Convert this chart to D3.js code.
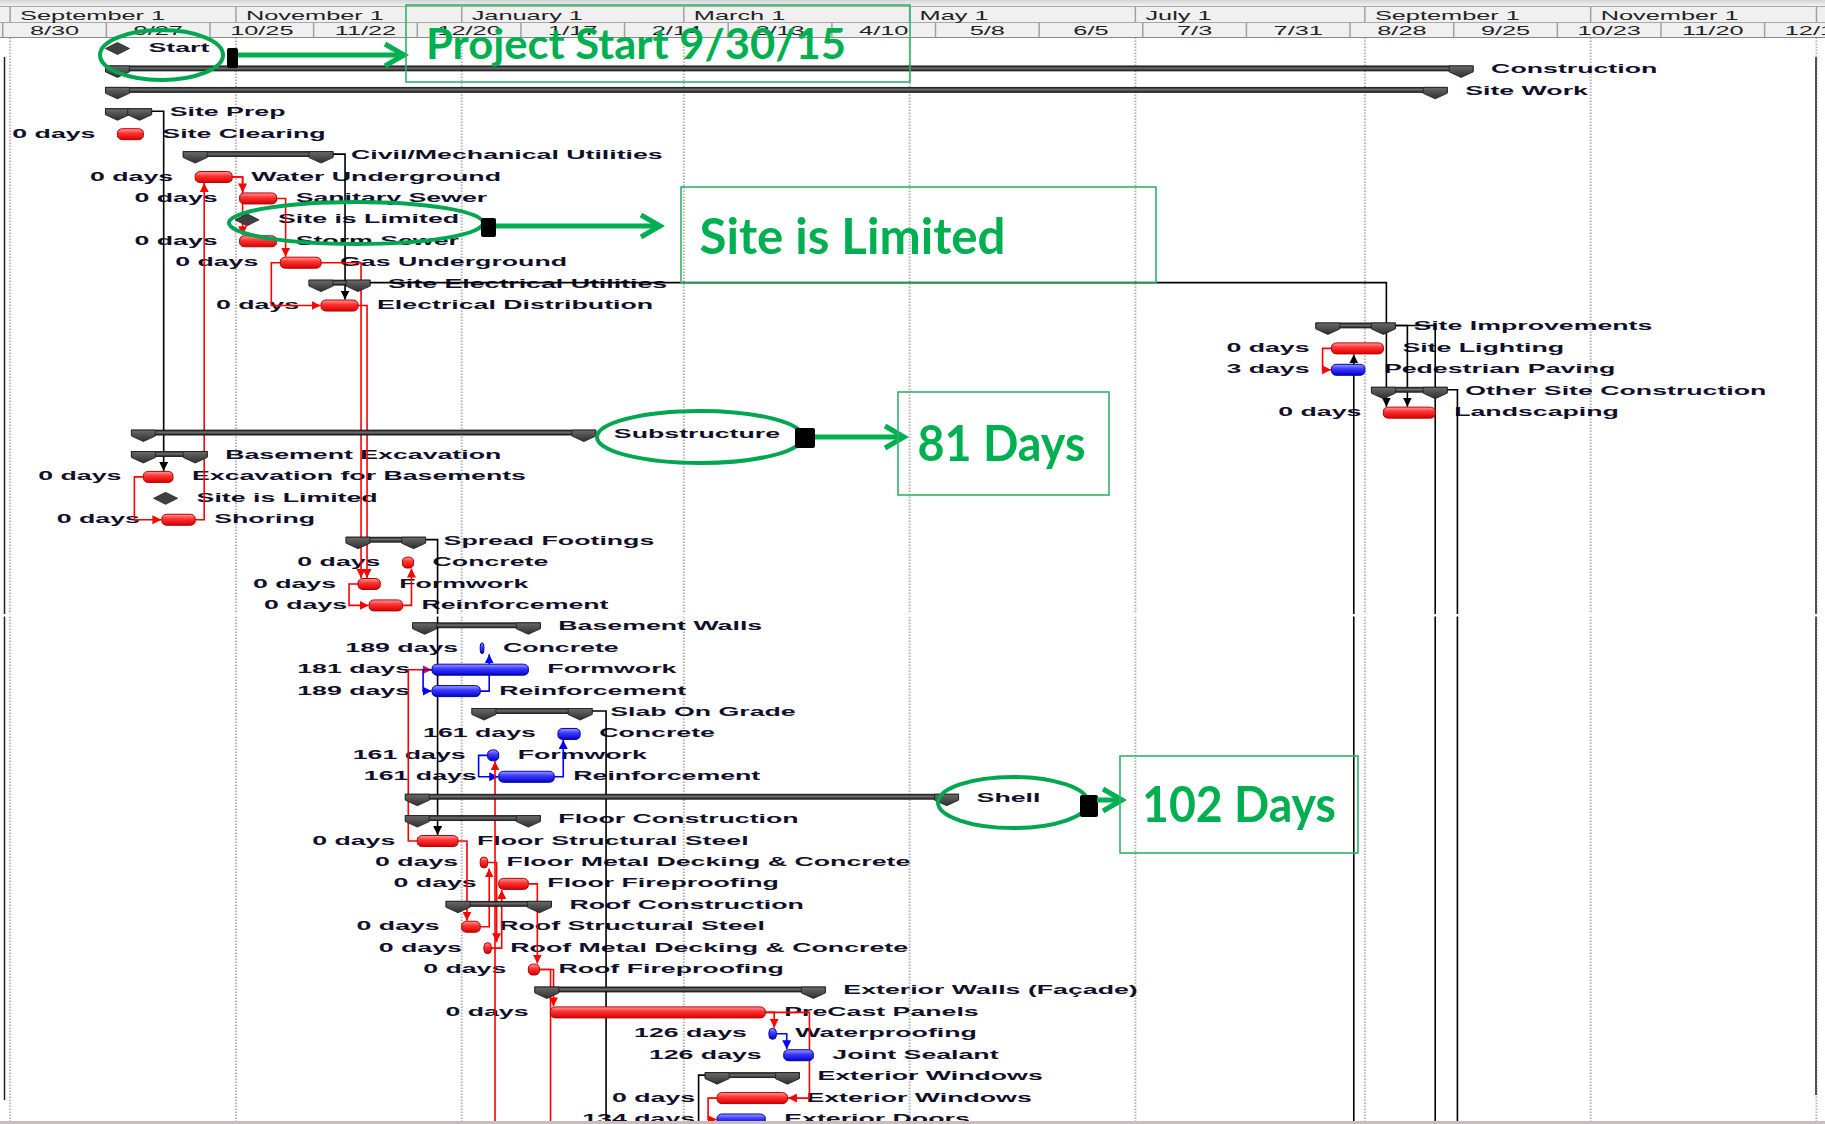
<!DOCTYPE html>
<html>
<head>
<meta charset="utf-8">
<script src="https://cdn.jsdelivr.net/npm/d3@7"></script>
<style>
  html, body { margin: 0; padding: 0; background: #fff; }
  svg { display: block; }
  .lbl { font: bold 13.5px "Liberation Sans", Arial, sans-serif; fill: #10102a; }
  .hdr { font: 13px "Liberation Sans", Arial, sans-serif; fill: #222; }
  .note { font-family: Lato, "Open Sans", sans-serif; font-weight: 700; fill: #00b050; }
</style>
</head>
<body>
<div id="chart"></div>
<script>
// ---- schedule rows (one per line of the Gantt chart) ----
const taskNames = [
  'Start', 'Construction', 'Site Work', 'Site Prep', 'Site Clearing',
  'Civil/Mechanical Utilities', 'Water Underground', 'Sanitary Sewer', 'Site is Limited', 'Storm Sewer',
  'Gas Underground', 'Site Electrical Utilities', 'Electrical Distribution', 'Site Improvements', 'Site Lighting',
  'Pedestrian Paving', 'Other Site Construction', 'Landscaping', 'Substructure', 'Basement Excavation',
  'Excavation for Basements', 'Site is Limited', 'Shoring', 'Spread Footings', 'Concrete',
  'Formwork', 'Reinforcement', 'Basement Walls', 'Concrete', 'Formwork',
  'Reinforcement', 'Slab On Grade', 'Concrete', 'Formwork', 'Reinforcement',
  'Shell', 'Floor Construction', 'Floor Structural Steel', 'Floor Metal Decking & Concrete', 'Floor Fireproofing',
  'Roof Construction', 'Roof Structural Steel', 'Roof Metal Decking & Concrete', 'Roof Fireproofing', 'Exterior Walls (Façade)',
  'PreCast Panels', 'Waterproofing', 'Joint Sealant', 'Exterior Windows', 'Exterior Windows',
  'Exterior Doors'
];
// m = milestone, s = summary, t = task
const taskTypes = ('m s s s t s t t m t ' + 't s t s t t s t s s ' + 't m t s t t t s t t ' +
  't s t t t s s t t t ' + 's t t t s t t t s t ' + 't').trim().split(' ');
const taskStarts = [
  '2015-09-30', '2015-09-30', '2015-09-30', '2015-09-30', '2015-09-30',
  '2015-10-21', '2015-10-21', '2015-11-02', '2015-11-04', '2015-11-02',
  '2015-11-13', '2015-11-24', '2015-11-24', '2016-08-22', '2016-08-23',
  '2016-08-23', '2016-09-06', '2016-09-06', '2015-10-07', '2015-10-07',
  '2015-10-07', '2015-10-13', '2015-10-12', '2015-12-04', '2015-12-16',
  '2015-12-04', '2015-12-07', '2015-12-22', '2016-01-06', '2015-12-24',
  '2015-12-24', '2016-01-07', '2016-01-27', '2016-01-08', '2016-01-11',
  '2015-12-20', '2015-12-20', '2015-12-20', '2016-01-06', '2016-01-11',
  '2015-12-31', '2016-01-01', '2016-01-07', '2016-01-19', '2016-01-24',
  '2016-01-25', '2016-03-24', '2016-03-28', '2016-03-10', '2016-03-10',
  '2016-03-10'
];
const taskFinishes = [
  '2015-09-30', '2016-09-27', '2016-09-20', '2015-10-06', '2015-10-07',
  '2015-11-24', '2015-10-31', '2015-11-12', '2015-11-04', '2015-11-12',
  '2015-11-24', '2015-12-04', '2015-12-04', '2016-09-06', '2016-09-06',
  '2016-09-01', '2016-09-20', '2016-09-20', '2016-02-03', '2015-10-21',
  '2015-10-15', '2015-10-13', '2015-10-21', '2015-12-19', '2015-12-19',
  '2015-12-10', '2015-12-16', '2016-01-19', '2016-01-07', '2016-01-19',
  '2016-01-06', '2016-02-02', '2016-02-02', '2016-01-11', '2016-01-26',
  '2016-05-11', '2016-01-19', '2015-12-31', '2016-01-08', '2016-01-19',
  '2016-01-22', '2016-01-06', '2016-01-09', '2016-01-22', '2016-04-05',
  '2016-03-23', '2016-03-26', '2016-04-05', '2016-03-29', '2016-03-29',
  '2016-03-23'
];
// total slack in days (null = not shown)
const totalSlack = [
  null, null, null, null, 0,
  null, 0, 0, null, 0,
  0, null, 0, null, 0,
  3, null, 0, null, null,
  0, null, 0, null, 0,
  0, 0, null, 189, 181,
  189, null, 161, 161, 161,
  null, null, 0, 0, 0,
  null, 0, 0, 0, null,
  0, 126, 126, null, 0,
  134
];

// dependencies: [from row, to row, type, class]  class: s = summary, c = critical, n = non-critical
const links = [
  [3, 20, 'FS', 's'], [5, 12, 'FS', 's'], [11, 17, 'FS', 's'], [13, 17, 'FS', 's'], [23, 37, 'FS', 's'],
  [20, 22, 'SS', 'c'], [22, 6, 'FS', 'c'], [6, 7, 'FS', 'c'], [6, 9, 'FS', 'c'], [7, 10, 'FS', 'c'],
  [10, 12, 'SS', 'c'], [10, 25, 'FS', 'c'], [12, 25, 'FS', 'c'], [25, 26, 'SS', 'c'], [26, 24, 'FS', 'c'],
  [37, 29, 'SS', 'c'], [29, 30, 'SS', 'n'], [30, 28, 'FS', 'n'], [33, 34, 'SS', 'n'], [34, 32, 'FS', 'n'],
  [37, 41, 'FS', 'c'], [41, 38, 'FS', 'c'], [38, 42, 'FS', 'c'], [42, 39, 'FS', 'c'], [39, 43, 'FS', 'c'],
  [43, 45, 'FS', 'c'], [45, 46, 'FS', 'c'], [46, 47, 'FS', 'n'], [45, 49, 'FF', 'c'], [49, 50, 'SS', 'c'],
  [14, 15, 'SS', 'c']
];
// dependencies whose other end lies below the picture: [row, direction, partner date, class]
const offLinks = [
  [13, 'out', '2016-09-20', 's'], [16, 'out', '2016-09-26', 's'], [31, 'out', '2016-02-09', 's'],
  [48, 'outSS', '2016-03-05', 's'], [43, 'out', '2016-01-25', 'c'],
  [14, 'in', '2016-08-29', 's'], [33, 'in', '2016-01-10', 'c']
];

// timescale tiers
const topTicks = ['2015-09-01', '2015-11-01', '2016-01-01', '2016-03-01', '2016-05-01',
  '2016-07-01', '2016-09-01', '2016-11-01', '2017-01-01'];
const bottomTicks = ['2015-08-30', '2015-09-27', '2015-10-25', '2015-11-22', '2015-12-20',
  '2016-01-17', '2016-02-14', '2016-03-13', '2016-04-10', '2016-05-08', '2016-06-05',
  '2016-07-03', '2016-07-31', '2016-08-28', '2016-09-25', '2016-10-23', '2016-11-20', '2016-12-18'];

// callouts drawn on top of the screenshot
const calloutTexts = ['Project Start 9/30/15', 'Site is Limited', '81 Days', '102 Days'];

// ---- layout ----
const width = 1825, height = 1124, chartBottom = 1121, headerBottom = 37.5;
const SX = 1.98;   // the source screenshot is stretched horizontally
const parse = d3.timeParse('%Y-%m-%d');

const x = d3.scaleTime()
  .domain([new Date(2015, 9, 25), new Date(2016, 10, 20)])
  .range([210, 1661]);
const rowY = d3.scaleLinear().domain([0, 50]).range([47.5, 47.5 + 50 * 21.42]);

const tasks = taskNames.map((name, i) => ({
  i, name, type: taskTypes[i],
  start: parse(taskStarts[i]), finish: parse(taskFinishes[i]),
  slack: totalSlack[i],
  critical: [15, 28, 29, 30, 32, 33, 34, 46, 47, 50].indexOf(i) < 0
}));

const colors = { s: '#000', c: '#ff0000', n: '#0000ff' };

const svg = d3.select('#chart').append('svg')
  .attr('width', width).attr('height', height);

const defs = svg.append('defs');
defs.append('clipPath').attr('id', 'clip')
  .append('rect').attr('x', 0).attr('y', 0).attr('width', width).attr('height', chartBottom);

function grad(id, stops) {
  const g = defs.append('linearGradient').attr('id', id)
    .attr('x1', 0).attr('y1', 0).attr('x2', 0).attr('y2', 1);
  stops.forEach(([o, c]) => g.append('stop').attr('offset', o).attr('stop-color', c));
}
grad('redG', [[0, '#ff9c9c'], [0.4, '#ff3434'], [1, '#d80000']]);
grad('blueG', [[0, '#a0a0ff'], [0.4, '#3c3cff'], [1, '#0000cc']]);
grad('sumG', [[0, '#1e1e1e'], [0.45, '#6e6e6e'], [1, '#1e1e1e']]);
grad('capG', [[0, '#6a6a6a'], [1, '#2e2e2e']]);
grad('topG', [[0, '#d4d4d4'], [1, '#f6f6f6']]);

Object.keys(colors).forEach(k => {
  defs.append('marker').attr('id', 'arr-' + k)
    .attr('viewBox', '0 0 10 10').attr('refX', 10).attr('refY', 5)
    .attr('markerWidth', 9).attr('markerHeight', 9)
    .attr('markerUnits', 'userSpaceOnUse').attr('orient', 'auto')
    .append('path').attr('d', 'M0,0 L10,5 L0,10 Z').attr('fill', colors[k]);
});

const root = svg.append('g').attr('clip-path', 'url(#clip)');
root.append('rect').attr('width', width).attr('height', height).attr('fill', '#fff');

// gridlines
root.append('g').selectAll('line')
  .data(topTicks.map(parse))
  .enter().append('line')
  .attr('x1', d => x(d)).attr('x2', d => x(d))
  .attr('y1', headerBottom).attr('y2', chartBottom)
  .attr('stroke', '#b4b4b4').attr('stroke-width', 2).attr('stroke-dasharray', '1.5,1.5');

// pane borders
root.append('line').attr('x1', 4.5).attr('x2', 4.5).attr('y1', 57).attr('y2', 1100)
  .attr('stroke', '#222').attr('stroke-width', 1.5);
root.append('line').attr('x1', 1816).attr('x2', 1816).attr('y1', 57).attr('y2', 1095)
  .attr('stroke', '#222').attr('stroke-width', 1.5);

// ---- labels ----
function stretched(g, px, py, str, anchor, cls, sx) {
  g.append('g').attr('transform', `translate(${px},${py}) scale(${sx},1)`)
    .append('text').attr('class', cls).attr('text-anchor', anchor).text(str);
}
const labelG = root.append('g');
tasks.forEach(t => {
  const c = rowY(t.i);
  const gap = t.type === 't' ? 19 : (t.type === 's' ? 30 : 31);
  stretched(labelG, x(t.finish) + gap, c + 4.5, t.name, 'start', 'lbl', SX);
  if (t.slack !== null) {
    stretched(labelG, x(t.start) - 22, c + 4.5, t.slack + ' days', 'end', 'lbl', SX);
  }
});

// ---- dependency lines ----
function barTop(t) { return t.type === 's' ? rowY(t.i) - 3 : rowY(t.i) - 4.5; }
function barBottom(t) { return t.type === 's' ? rowY(t.i) + 2 : rowY(t.i) + 6.5; }
function midY(t) { return t.type === 's' ? rowY(t.i) - 0.5 : rowY(t.i) + 1; }
function cap(t) { return t.type === 's' ? 12 : 0; }
function lead(t) { return t.type === 's' ? 24 : 9; }

const linkG = root.append('g').attr('fill', 'none').attr('stroke-width', 1.6);
links.forEach(([a, b, type, cls]) => {
  const A = tasks[a], B = tasks[b];
  let d;
  if (type === 'FS') {
    const xv = Math.max(x(A.finish) + lead(A), x(B.start) + 3);
    const yEnd = b > a ? barTop(B) - 0.5 : barBottom(B) + 0.5;
    d = `M${x(A.finish) + cap(A)},${midY(A)} H${xv} V${yEnd}`;
  } else if (type === 'SS') {
    const xv = Math.min(x(A.start) - cap(A), x(B.start)) - 9;
    d = `M${x(A.start) - cap(A)},${midY(A)} H${xv} V${midY(B)} H${x(B.start) - 0.5}`;
  } else {
    const xv = Math.max(x(A.finish), x(B.finish)) + 22;
    d = `M${x(A.finish)},${midY(A)} H${xv} V${midY(B)} H${x(B.finish) + 0.5}`;
  }
  linkG.append('path').attr('d', d).attr('stroke', colors[cls])
    .attr('marker-end', `url(#arr-${cls})`);
});
offLinks.forEach(([r, dir, date, cls]) => {
  const T = tasks[r], xv = x(parse(date));
  const p = linkG.append('path').attr('stroke', colors[cls]);
  if (dir === 'out') {
    p.attr('d', `M${x(T.finish) + cap(T)},${midY(T)} H${xv} V${chartBottom + 5}`);
  } else if (dir === 'outSS') {
    p.attr('d', `M${x(T.start) - cap(T)},${midY(T)} H${xv} V${chartBottom + 5}`);
  } else {
    p.attr('d', `M${xv},${chartBottom + 5} V${barBottom(T) + 0.5}`)
      .attr('marker-end', `url(#arr-${cls})`);
  }
});

// ---- bars ----
const barG = root.append('g');
tasks.filter(t => t.type === 's').forEach(t => {
  const c = rowY(t.i), x0 = x(t.start), x1 = x(t.finish);
  barG.append('rect').attr('x', x0 - 12).attr('y', c - 3)
    .attr('width', x1 - x0 + 24).attr('height', 5)
    .attr('fill', 'url(#sumG)').attr('stroke', '#111').attr('stroke-width', 0.8);
  [x0, x1].forEach(cx => {
    barG.append('path')
      .attr('d', `M${cx - 12},${c - 3} H${cx + 12} V${c + 3} L${cx},${c + 8.5} L${cx - 12},${c + 3} Z`)
      .attr('fill', 'url(#capG)').attr('stroke', '#1a1a1a').attr('stroke-width', 0.8);
  });
});
tasks.filter(t => t.type === 't').forEach(t => {
  const c = rowY(t.i), x0 = x(t.start), x1 = x(t.finish);
  barG.append('rect').attr('x', x0).attr('y', c - 4.5)
    .attr('width', Math.max(x1 - x0, 3.5)).attr('height', 11)
    .attr('rx', Math.min(5, (x1 - x0) / 2)).attr('ry', 4)
    .attr('fill', t.critical ? 'url(#redG)' : 'url(#blueG)')
    .attr('stroke', t.critical ? '#b40000' : '#0000a8').attr('stroke-width', 1);
});
tasks.filter(t => t.type === 'm').forEach(t => {
  const c = rowY(t.i) + 1, cx = x(t.start);
  barG.append('path')
    .attr('d', `M${cx - 12},${c} L${cx},${c - 6} L${cx + 12},${c} L${cx},${c + 6} Z`)
    .attr('fill', '#404040').attr('stroke', '#222').attr('stroke-width', 0.8);
});

// seam where the two screenshots were joined
root.append('rect').attr('x', 0).attr('y', 614).attr('width', width).attr('height', 2.5)
  .attr('fill', '#fff');

// ---- timescale header ----
const hdr = root.append('g');
hdr.append('rect').attr('x', 0).attr('y', 0).attr('width', width).attr('height', 6.5)
  .attr('fill', 'url(#topG)');
hdr.append('rect').attr('x', 0).attr('y', 6.5).attr('width', width).attr('height', headerBottom - 6.5)
  .attr('fill', '#f0f0f0');
[6.5, 22.5].forEach(yy => hdr.append('line').attr('x1', 0).attr('x2', width)
  .attr('y1', yy).attr('y2', yy).attr('stroke', '#a8a8a8').attr('stroke-width', 1));
hdr.append('line').attr('x1', 0).attr('x2', width).attr('y1', headerBottom).attr('y2', headerBottom)
  .attr('stroke', '#8a8a8a').attr('stroke-width', 1.2);

const topFmt = d3.timeFormat('%B %-d');
topTicks.map(parse).forEach(d => {
  hdr.append('line').attr('x1', x(d)).attr('x2', x(d)).attr('y1', 6.5).attr('y2', 22.5)
    .attr('stroke', '#a0a0a0').attr('stroke-width', 1.5);
  stretched(hdr, x(d) + 10, 19.5, topFmt(d), 'start', 'hdr', 1.95);
});
const botFmt = d3.timeFormat('%-m/%-d');
const bot = bottomTicks.map(parse);
bot.forEach((d, k) => {
  hdr.append('line').attr('x1', x(d)).attr('x2', x(d)).attr('y1', 22.5).attr('y2', headerBottom)
    .attr('stroke', '#a0a0a0').attr('stroke-width', 1.5);
  const next = d3.timeDay.offset(d, 28);
  stretched(hdr, (x(d) + x(next)) / 2, 34.5, botFmt(d), 'middle', 'hdr', 1.95);
});

// ---- green callouts ----
const calloutLayout = [
  { ell: [161.5, 55, 61.5, 25], tab: [227, 48, 11, 20], arrow: [238, 55, 404], box: [406, 5, 504, 77], txt: [426, 59, 420, 42] },
  { ell: [356, 223, 127, 21], tab: [481, 218, 15, 19], arrow: [496, 226, 660], box: [681, 187, 475, 96], txt: [699.5, 253.5, 306, 50] },
  { ell: [700, 437, 103, 26], tab: [795, 428, 20, 20], arrow: [815, 437, 904], box: [898, 392, 211, 103], txt: [917.5, 461, 168, 50] },
  { ell: [1013, 802.5, 75, 25.5], tab: [1080, 795, 18, 22], arrow: [1097, 800, 1122], box: [1120, 756, 238, 97], txt: [1142, 822, 194, 50] }
];
const green = '#00b050';
const notes = svg.append('g');
calloutTexts.forEach((str, k) => {
  const L = calloutLayout[k];
  notes.append('ellipse').attr('cx', L.ell[0]).attr('cy', L.ell[1])
    .attr('rx', L.ell[2]).attr('ry', L.ell[3])
    .attr('fill', 'none').attr('stroke', '#00a650').attr('stroke-width', 4);
  notes.append('rect').attr('x', L.tab[0]).attr('y', L.tab[1])
    .attr('width', L.tab[2]).attr('height', L.tab[3]).attr('rx', 2).attr('fill', '#000');
  const [ax0, ay, ax1] = L.arrow;
  notes.append('path').attr('d', `M${ax0},${ay} H${ax1 - 3}`)
    .attr('stroke', green).attr('stroke-width', 5).attr('fill', 'none');
  notes.append('path').attr('d', `M${ax1 - 19},${ay - 11} L${ax1},${ay} L${ax1 - 19},${ay + 11}`)
    .attr('stroke', green).attr('stroke-width', 5).attr('fill', 'none')
    .attr('stroke-linejoin', 'miter');
  notes.append('rect').attr('x', L.box[0]).attr('y', L.box[1])
    .attr('width', L.box[2]).attr('height', L.box[3])
    .attr('fill', 'none').attr('stroke', '#2fb36a').attr('stroke-width', 1.6);
  notes.append('text').attr('class', 'note')
    .attr('x', L.txt[0]).attr('y', L.txt[1])
    .attr('textLength', L.txt[2]).attr('lengthAdjust', 'spacingAndGlyphs')
    .style('font-size', L.txt[3] + 'px')
    .text(str);
});

// bottom edge of the screenshot
svg.append('rect').attr('x', 0).attr('y', chartBottom).attr('width', width).attr('height', 3)
  .attr('fill', '#c9bcbc');
</script>
</body>
</html>
